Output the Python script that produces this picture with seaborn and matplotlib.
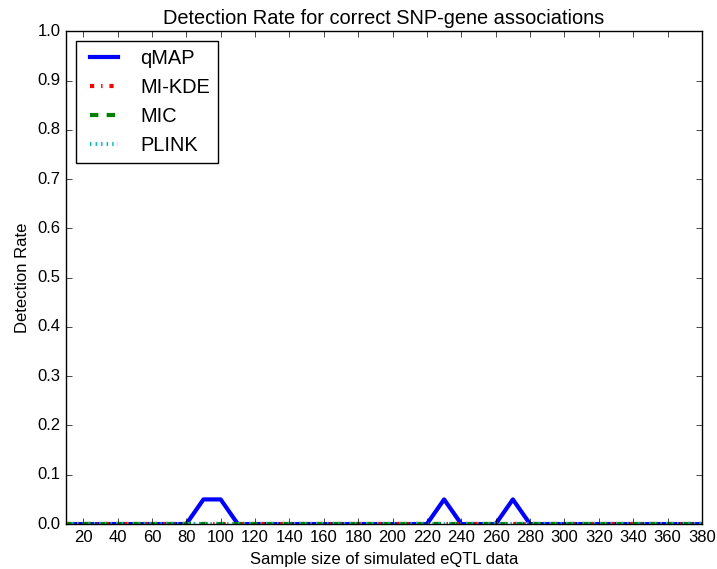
import numpy as np
import pandas as pd
import matplotlib
matplotlib.use('Agg')
import matplotlib.pyplot as plt
import seaborn as sns

# 样本量 10..380
sample_sizes = list(range(10, 390, 10))
qmap = [0, 0, 0, 0, 0, 0, 0, 0, 0.05, 0.05, 0, 0, 0, 0, 0, 0, 0, 0, 0, 0, 0, 0,
        0.05, 0, 0, 0, 0.05, 0, 0, 0, 0, 0, 0, 0, 0, 0, 0, 0]
mikde = [0] * len(sample_sizes)
mic = [0] * len(sample_sizes)
plink = [0] * len(sample_sizes)

plt.style.use('classic')
plt.rcParams['font.family'] = ['Liberation Sans', 'DejaVu Sans']

fig = plt.figure(figsize=(7.17, 5.69), dpi=100)
ax = fig.add_axes([0.092, 0.079, 0.887, 0.866])

series = [('qMAP', qmap, 'b', '-'),
          ('MI-KDE', mikde, 'r', '-.'),
          ('MIC', mic, 'g', '--'),
          ('PLINK', plink, 'c', ':')]
for name, vals, color, ls in series:
    df = pd.DataFrame({'n': sample_sizes, 'rate': vals})
    sns.lineplot(data=df, x='n', y='rate', ax=ax, color=color, linestyle=ls,
                 linewidth=3, label=name)

ax.set_xlim(10, 380)
ax.set_ylim(0, 1.0)
ax.set_xticks(range(20, 381, 20))
ax.set_yticks(np.arange(0, 1.01, 0.1))
ax.set_title('Detection Rate for correct SNP-gene associations')
ax.set_xlabel('Sample size of simulated eQTL data')
ax.set_ylabel('Detection Rate')
ax.legend(loc='upper left')

fig.savefig('out.png', dpi=100)
